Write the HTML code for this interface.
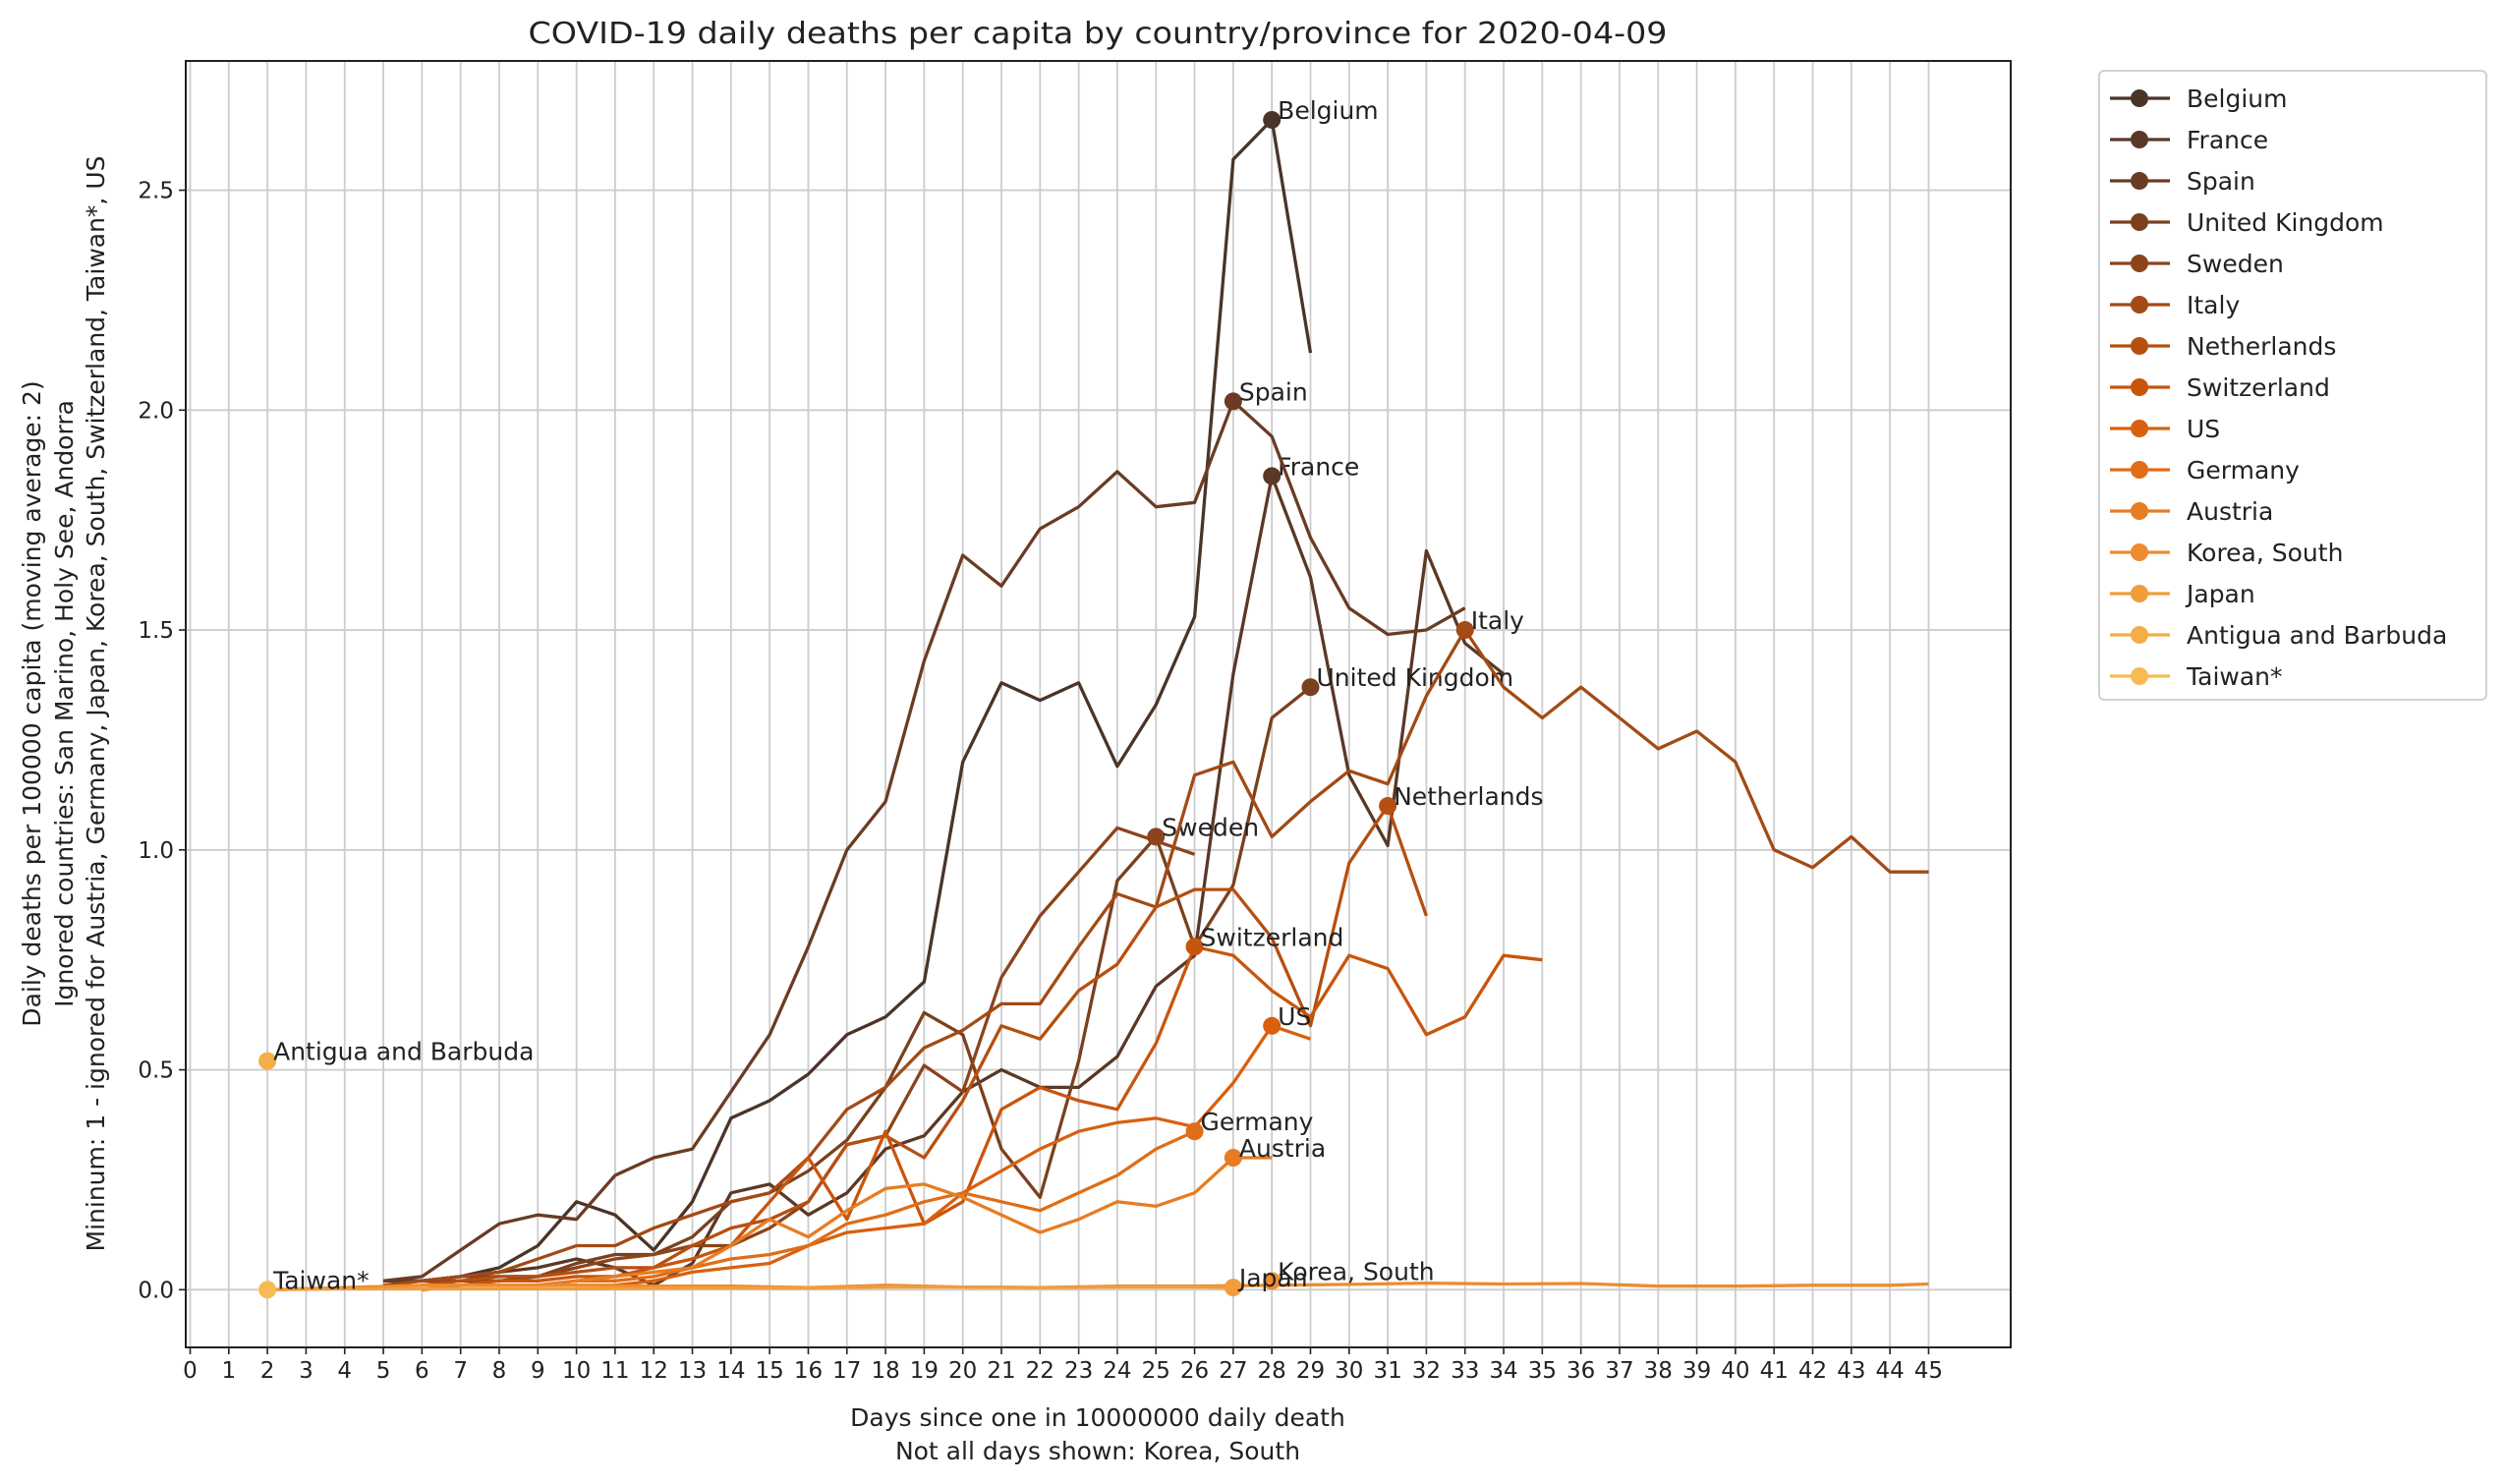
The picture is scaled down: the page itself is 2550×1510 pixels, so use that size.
<!DOCTYPE html>
<html><head><meta charset="utf-8"><style>
html,body{margin:0;padding:0;background:#fff;}
svg{display:block;font-family:"DejaVu Sans","Liberation Sans",sans-serif;}
</style></head><body>
<svg id="chart" width="2550" height="1510" viewBox="0 0 2550 1510"></svg>
<script>
const countries = ["Belgium","France","Spain","United Kingdom","Sweden","Italy","Netherlands","Switzerland","US","Germany","Austria","Korea, South","Japan","Antigua and Barbuda","Taiwan*"];
const colors = ["#4a3428","#5a3826","#6a3c23","#7a401f","#8b441b","#a34a15","#b64f10","#c8550c","#d9600f","#e06d17","#e77c22","#ed8c2e","#f19d3b","#f4ad47","#f6bb52"];
const markerDay = [28,28,27,29,25,33,31,26,28,26,27,28,27,2,2];
const markerVal = [2.66,1.85,2.02,1.37,1.03,1.5,1.1,0.78,0.6,0.36,0.3,0.02,0.005,0.52,0.0];
const seriesDays = [
 [5,6,7,8,9,10,11,12,13,14,15,16,17,18,19,20,21,22,23,24,25,26,27,28,29],
 [5,6,7,8,9,10,11,12,13,14,15,16,17,18,19,20,21,22,23,24,25,26,27,28,29,30,31,32,33,34],
 [5,6,7,8,9,10,11,12,13,14,15,16,17,18,19,20,21,22,23,24,25,26,27,28,29,30,31,32,33],
 [6,7,8,9,10,11,12,13,14,15,16,17,18,19,20,21,22,23,24,25,26,27,28,29],
 [6,7,8,9,10,11,12,13,14,15,16,17,18,19,20,21,22,23,24,25,26],
 [5,6,7,8,9,10,11,12,13,14,15,16,17,18,19,20,21,22,23,24,25,26,27,28,29,30,31,32,33,34,35,36,37,38,39,40,41,42,43,44,45],
 [6,7,8,9,10,11,12,13,14,15,16,17,18,19,20,21,22,23,24,25,26,27,28,29,30,31,32],
 [6,7,8,9,10,11,12,13,14,15,16,17,18,19,20,21,22,23,24,25,26,27,28,29,30,31,32,33,34,35],
 [6,7,8,9,10,11,12,13,14,15,16,17,18,19,20,21,22,23,24,25,26,27,28,29],
 [6,7,8,9,10,11,12,13,14,15,16,17,18,19,20,21,22,23,24,25,26],
 [7,8,9,10,11,12,13,14,15,16,17,18,19,20,21,22,23,24,25,26,27,28],
 [2,4,6,8,10,12,14,16,18,20,22,24,26,28,30,32,34,36,38,40,42,44,45],
 [2,4,6,8,10,12,14,16,18,20,22,24,26,27],
 [2],
 [2]
];
const seriesVals = [
 [0.02,0.02,0.03,0.05,0.1,0.2,0.17,0.09,0.2,0.39,0.43,0.49,0.58,0.62,0.7,1.2,1.38,1.34,1.38,1.19,1.33,1.53,2.57,2.66,2.13],
 [0.02,0.02,0.03,0.04,0.05,0.07,0.05,0.01,0.06,0.22,0.24,0.17,0.22,0.32,0.35,0.45,0.5,0.46,0.46,0.53,0.69,0.76,1.4,1.85,1.62,1.17,1.01,1.68,1.47,1.40],
 [0.02,0.03,0.09,0.15,0.17,0.16,0.26,0.3,0.32,0.45,0.58,0.78,1.0,1.11,1.43,1.67,1.6,1.73,1.78,1.86,1.78,1.79,2.02,1.94,1.71,1.55,1.49,1.5,1.55],
 [0.02,0.03,0.03,0.03,0.06,0.08,0.08,0.12,0.2,0.22,0.27,0.34,0.46,0.63,0.58,0.32,0.21,0.52,0.93,1.03,0.78,0.92,1.3,1.37],
 [0.02,0.02,0.02,0.03,0.05,0.07,0.08,0.1,0.1,0.14,0.2,0.33,0.35,0.51,0.45,0.71,0.85,0.95,1.05,1.02,0.99],
 [0.01,0.02,0.03,0.04,0.07,0.1,0.1,0.14,0.17,0.2,0.22,0.3,0.41,0.46,0.55,0.59,0.65,0.65,0.78,0.9,0.87,1.17,1.2,1.03,1.11,1.18,1.15,1.35,1.5,1.37,1.3,1.37,1.3,1.23,1.27,1.2,1.0,0.96,1.03,0.95,0.95],
 [0.01,0.02,0.03,0.03,0.04,0.05,0.05,0.1,0.14,0.16,0.2,0.33,0.35,0.3,0.43,0.6,0.57,0.68,0.74,0.87,0.91,0.91,0.8,0.6,0.97,1.1,0.85],
 [0.01,0.01,0.02,0.02,0.03,0.03,0.05,0.07,0.1,0.2,0.3,0.16,0.36,0.15,0.2,0.41,0.46,0.43,0.41,0.56,0.78,0.76,0.68,0.62,0.76,0.73,0.58,0.62,0.76,0.75],
 [0.0,0.01,0.01,0.01,0.01,0.01,0.02,0.04,0.05,0.06,0.1,0.13,0.14,0.15,0.22,0.27,0.32,0.36,0.38,0.39,0.37,0.47,0.6,0.57],
 [0.0,0.01,0.01,0.01,0.02,0.02,0.03,0.05,0.07,0.08,0.1,0.15,0.17,0.2,0.22,0.2,0.18,0.22,0.26,0.32,0.36],
 [0.01,0.01,0.01,0.02,0.03,0.04,0.05,0.1,0.16,0.12,0.18,0.23,0.24,0.21,0.17,0.13,0.16,0.2,0.19,0.22,0.3,0.3],
 [0.0,0.005,0.01,0.01,0.01,0.008,0.008,0.005,0.01,0.006,0.005,0.008,0.008,0.01,0.012,0.015,0.013,0.014,0.008,0.008,0.01,0.01,0.013],
 [0.0,0.002,0.002,0.002,0.002,0.003,0.004,0.004,0.006,0.006,0.005,0.006,0.006,0.005],
 [0.52],
 [0.0]
];
const xTicks = Array.from({length:46},(_, i)=>i);
const yTicks = [0,0.5,1.0,1.5,2.0,2.5];
const yTickLabels = ["0.0","0.5","1.0","1.5","2.0","2.5"];

const L=189,R=2046,T=62,B=1371;
const X0=193.5, DX=39.31, Y0=1312.3, DY=447.5;
const xs=d=>X0+d*DX, ys=v=>Y0-v*DY;
const NS="http://www.w3.org/2000/svg";
const svg=document.getElementById('chart');
function mk(tag,attrs,parent){const e=document.createElementNS(NS,tag);for(const k in attrs)e.setAttribute(k,attrs[k]);(parent||svg).appendChild(e);return e;}

const grid=mk('g',{});


xTicks.forEach(d=>{mk('line',{x1:xs(d),x2:xs(d),y1:T,y2:B,stroke:'#cccccc','stroke-width':1.8},grid);});
yTicks.forEach(v=>{mk('line',{x1:L,x2:R,y1:ys(v),y2:ys(v),stroke:'#cccccc','stroke-width':1.8},grid);});

countries.forEach((c,i)=>{
  const g=mk('g',{});
  
  
  const pts=seriesDays[i].map((d,j)=>xs(d).toFixed(1)+','+ys(seriesVals[i][j]).toFixed(1)).join(' ');
  if(seriesDays[i].length>1){
    const pl=mk('polyline',{points:pts,fill:'none',stroke:colors[i],'stroke-width':3.3,'stroke-linejoin':'round'},g);
    
    
  }
  const m=mk('circle',{cx:xs(markerDay[i]),cy:ys(markerVal[i]),r:9,fill:colors[i]},g);
  
  
  const t=mk('text',{x:xs(markerDay[i])+6,y:ys(markerVal[i])-1,'font-size':25,fill:'#222'},g);
  t.textContent=c;
  
  
});

const fr=mk('rect',{x:L,y:T,width:R-L,height:B-T,fill:'none',stroke:'#222','stroke-width':2});



const xt=mk('g',{});


xTicks.forEach(d=>{
  mk('line',{x1:xs(d),x2:xs(d),y1:B,y2:B+7,stroke:'#222','stroke-width':1.6},xt);
  const t=mk('text',{x:xs(d),y:B+31,'font-size':23,'text-anchor':'middle',fill:'#222'},xt);
  t.textContent=d;
  
  
});
const yt=mk('g',{});


yTicks.forEach((v,i)=>{
  mk('line',{x1:L-7,x2:L,y1:ys(v),y2:ys(v),stroke:'#222','stroke-width':1.6},yt);
  const t=mk('text',{x:L-12,y:ys(v)+8,'font-size':23,'text-anchor':'end',fill:'#222'},yt);
  t.textContent=yTickLabels[i];
  
  
});

const lg=mk('g',{});


mk('rect',{x:2136,y:72,width:394,height:640,rx:5,fill:'#fff',stroke:'#cccccc','stroke-width':1.8},lg);
countries.forEach((c,i)=>{
  const y=100+i*42;
  const e=mk('g',{},lg);
  
  
  mk('line',{x1:2147,x2:2208,y1:y,y2:y,stroke:colors[i],'stroke-width':3.3},e);
  mk('circle',{cx:2177,cy:y,r:9,fill:colors[i]},e);
  const t=mk('text',{x:2225,y:y+9,'font-size':25,fill:'#222'},e);
  t.textContent=c;
});

const title=mk('text',{x:1117,y:44,'font-size':30,'text-anchor':'middle',fill:'#222',textLength:1159,lengthAdjust:'spacingAndGlyphs'});
title.textContent='COVID-19 daily deaths per capita by country/province for 2020-04-09';



const xl1=mk('text',{x:1117,y:1451,'font-size':25,'text-anchor':'middle',fill:'#222'});
xl1.textContent='Days since one in 10000000 daily death';


const xl2=mk('text',{x:1117,y:1485,'font-size':25,'text-anchor':'middle',fill:'#222'});
xl2.textContent='Not all days shown: Korea, South';



const ylines=['Daily deaths per 100000 capita (moving average: 2)','Ignored countries: San Marino, Holy See, Andorra','Mininum: 1 - ignored for Austria, Germany, Japan, Korea, South, Switzerland, Taiwan*, US'];
const ylx=[41,74,106];
ylines.forEach((s,i)=>{
  const t=mk('text',{x:0,y:0,'font-size':25,'text-anchor':'middle',fill:'#222',transform:`translate(${ylx[i]},716) rotate(-90)`});
  t.textContent=s;
  
  
});
</script>
</body></html>
